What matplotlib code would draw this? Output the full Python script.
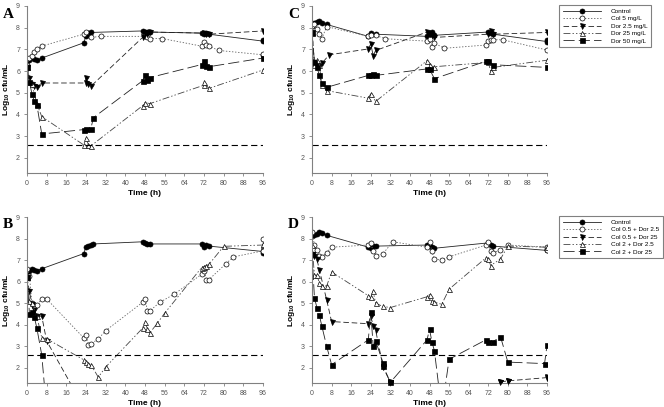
import numpy as np
import matplotlib.pyplot as plt

plt.rcParams['font.family'] = ['Liberation Sans', 'DejaVu Sans']
plt.rcParams['mathtext.fontset'] = 'custom'
plt.rcParams['mathtext.rm'] = 'Liberation Sans'
plt.rcParams['mathtext.bf'] = 'Liberation Sans:bold'
plt.rcParams['lines.scale_dashes'] = False

# ---- data (time h, log10 cfu/mL) ----
# Panel A: single agents
tA_ctrl = [0, 0, 1, 3, 4, 6, 23, 24, 25, 26, 47, 48, 49, 50, 71, 72, 73, 74, 96, 96]
vA_ctrl = [6.2, 6.3, 6.5, 6.55, 6.5, 6.6, 7.3, 7.6, 7.75, 7.78, 7.85, 7.8, 7.8, 7.8, 7.75, 7.7, 7.75, 7.7, 7.38, 7.42]
tA_col5 = [0, 1, 2, 3, 4, 6, 23, 24, 26, 30, 48, 49, 50, 55, 71, 72, 73, 74, 78, 96, 96]
vA_col5 = [6.3, 6.6, 6.7, 6.9, 7.0, 7.15, 7.7, 7.8, 7.55, 7.6, 7.6, 7.55, 7.5, 7.5, 7.15, 7.35, 7.2, 7.15, 6.95, 6.75, 6.8]
tA_dor2 = [0, 1, 2, 3, 4, 6, 24, 24, 25, 26, 47, 48, 49, 50, 72, 73, 74, 96]
vA_dor2 = [6.2, 5.7, 5.4, 5.3, 5.25, 5.45, 5.45, 5.7, 5.4, 5.3, 7.55, 7.75, 7.7, 7.8, 7.75, 7.7, 7.7, 7.85]
tA_dor25 = [0, 1, 2, 4, 6, 23, 24, 25, 26, 47, 48, 50, 72, 72, 74, 96]
vA_dor25 = [6.2, 5.5, 5.4, 4.5, 3.9, 2.6, 2.9, 2.6, 2.55, 4.4, 4.55, 4.5, 5.35, 5.5, 5.2, 6.05]
tA_dor50 = [0, 1, 2, 3, 4, 6, 23, 24, 26, 27, 47, 48, 49, 50, 71, 72, 73, 74, 96]
vA_dor50 = [6.2, 5.5, 4.95, 4.6, 4.45, 3.1, 3.3, 3.35, 3.35, 3.85, 5.55, 5.8, 5.6, 5.7, 6.3, 6.45, 6.25, 6.2, 6.6]

# Panel C: single agents, higher inoculum
tC_ctrl = [0, 1, 2, 3, 4, 6, 23, 24, 26, 47, 48, 49, 50, 72, 73, 74, 96, 96]
vC_ctrl = [8.1, 8.2, 8.25, 8.3, 8.2, 8.15, 7.6, 7.75, 7.7, 7.6, 7.7, 7.8, 7.65, 7.8, 7.75, 7.7, 7.36, 7.42]
tC_col5 = [0, 1, 2, 3, 4, 6, 23, 24, 26, 30, 47, 48, 49, 50, 54, 71, 72, 73, 74, 78, 96]
vC_col5 = [8.1, 8.15, 7.95, 7.7, 7.5, 8.05, 7.6, 7.66, 7.64, 7.49, 7.38, 7.5, 7.1, 7.29, 7.05, 7.2, 7.38, 7.44, 7.45, 7.44, 6.97]
tC_dor2 = [0, 1, 2, 3, 4, 7, 23, 24, 25, 26, 47, 48, 49, 50, 72, 73, 74, 96]
vC_dor2 = [7.8, 6.4, 6.3, 6.25, 6.35, 6.75, 7.02, 7.25, 6.71, 6.95, 7.8, 7.7, 7.65, 7.55, 7.7, 7.85, 7.7, 7.78]
tC_dor25 = [0, 1, 2, 3, 4, 6, 23, 24, 26, 47, 48, 50, 72, 73, 74, 96]
vC_dor25 = [7.8, 6.3, 6.5, 6.3, 5.35, 5.1, 4.75, 4.95, 4.6, 6.48, 6.29, 6.2, 6.4, 6.0, 6.17, 6.5]
tC_dor50 = [0, 1, 2, 3, 4, 6, 23, 24, 25, 26, 47, 48, 50, 71, 72, 74, 96]
vC_dor50 = [7.77, 6.4, 6.2, 5.8, 5.45, 5.25, 5.8, 5.8, 5.85, 5.8, 6.1, 6.09, 5.65, 6.45, 6.48, 6.29, 6.17]

# Panel B: combinations
tB_ctrl = [0, 0, 1, 2, 3, 4, 6, 23, 24, 25, 26, 27, 47, 48, 49, 50, 71, 72, 73, 74, 96, 96]
vB_ctrl = [6.2, 6.3, 6.5, 6.6, 6.55, 6.5, 6.6, 7.3, 7.6, 7.65, 7.7, 7.75, 7.85, 7.8, 7.75, 7.75, 7.75, 7.6, 7.7, 7.65, 7.4, 7.35]
tB_c05d2 = [0, 1, 2, 3, 4, 6, 8, 23, 24, 25, 26, 29, 32, 47, 48, 49, 50, 54, 60, 71, 72, 73, 74, 81, 84, 96, 96]
vB_c05d2 = [6.6, 6.25, 5.0, 4.85, 4.9, 5.2, 5.2, 3.4, 3.52, 3.08, 3.12, 3.34, 3.73, 5.04, 5.2, 4.65, 4.65, 5.04, 5.43, 6.34, 6.5, 6.1, 6.1, 6.84, 7.15, 7.43, 8.0]
tB_c05d25 = [0, 1, 2, 3, 4, 6, 8, 24]
vB_c05d25 = [6.2, 5.55, 4.95, 4.7, 4.4, 4.4, 3.25, 0.0]
tB_c2d2 = [0, 1, 2, 4, 6, 8, 23, 24, 25, 26, 29, 32, 47, 48, 49, 50, 53, 56, 71, 72, 73, 74, 80, 96, 96]
vB_c2d2 = [6.2, 5.1, 5.0, 4.4, 3.4, 3.35, 2.38, 2.27, 2.2, 2.15, 1.57, 2.04, 3.84, 4.15, 3.8, 3.63, 4.07, 4.54, 6.65, 6.7, 6.75, 6.8, 7.64, 7.7, 7.75]
tB_c2d25 = [0, 1, 2, 3, 4, 6, 8]
vB_c2d25 = [6.2, 4.5, 4.6, 4.35, 3.85, 2.6, 0.0]

# Panel D: combinations, higher inoculum
tD_ctrl = [0, 1, 2, 3, 4, 6, 23, 24, 25, 26, 47, 48, 49, 50, 72, 73, 74, 96, 96]
vD_ctrl = [8.1, 8.15, 8.2, 8.3, 8.25, 8.15, 7.6, 7.55, 7.65, 7.65, 7.7, 7.65, 7.6, 7.55, 7.8, 7.7, 7.65, 7.45, 7.5]
tD_c05d2 = [0, 1, 2, 3, 4, 6, 8, 23, 24, 25, 26, 29, 33, 47, 48, 49, 50, 53, 56, 71, 72, 73, 74, 77, 80, 96, 96]
vD_c05d2 = [8.3, 7.7, 7.45, 7.2, 7.15, 7.35, 7.6, 7.7, 7.8, 7.4, 7.2, 7.3, 7.85, 7.6, 7.85, 7.4, 7.05, 7.0, 7.15, 7.7, 7.85, 7.4, 7.35, 7.45, 7.7, 7.6, 7.45]
tD_c05d25 = [0, 1, 2, 3, 6, 8, 23, 24, 25, 26, 29, 32, np.nan, 77, 80, 96, 96]
vD_c05d25 = [7.3, 7.2, 7.05, 6.55, 5.15, 4.15, 4.05, 4.4, 3.95, 3.75, 2.05, 1.33, np.nan, 1.35, 1.4, 1.55, 1.6]
tD_c2d2 = [0, 1, 2, 3, 4, 6, 8, 23, 24, 25, 26, 29, 32, 47, 48, 49, 50, 53, 56, 71, 72, 73, 77, 80, 96]
vD_c2d2 = [7.7, 6.3, 6.3, 5.95, 5.8, 5.8, 6.45, 5.35, 5.3, 5.55, 5.0, 4.85, 4.8, 5.3, 5.4, 5.1, 5.05, 4.95, 5.65, 7.1, 7.05, 6.75, 7.05, 7.65, 7.6]
tD_c2d25 = [0, 1, 2, 3, 4, 6, 8, 23, 24, 25, 26, 29, 29, 32, 47, 48, 49, 50, 53, 56, 71, 72, 74, 77, 80, 95, 96]
vD_c2d25 = [7.3, 5.25, 4.8, 4.45, 3.95, 3.0, 2.15, 3.3, 4.6, 3.0, 3.25, 2.25, 2.1, 1.33, 3.3, 3.8, 3.2, 2.8, 0.0, 2.4, 3.3, 3.22, 3.22, 3.45, 2.27, 2.2, 3.05]

limit = 2.6   # detection limit
labels_single = ['Control', 'Col 5 mg/L', 'Dor 2.5 mg/L', 'Dor 25 mg/L', 'Dor 50 mg/L']
labels_combo = ['Control', 'Col 0.5 + Dor 2.5', 'Col 0.5 + Dor 25', 'Col 2 + Dor 2.5', 'Col 2 + Dor 25']

styles = [
    dict(ls='-', marker='o', mfc='black', color='#222222'),
    dict(ls=(0, (1, 1.2)), marker='o', mfc='white', color='#666666'),
    dict(ls=(0, (4, 2)), marker='v', mfc='black', color='#222222'),
    dict(ls=(0, (5, 1.5, 1, 1.5, 1, 1.5)), marker='^', mfc='white', color='#444444'),
    dict(ls=(0, (8, 3)), marker='s', mfc='black', color='#222222'),
]

panels = {
    'A': [(tA_ctrl, vA_ctrl), (tA_col5, vA_col5), (tA_dor2, vA_dor2), (tA_dor25, vA_dor25), (tA_dor50, vA_dor50)],
    'C': [(tC_ctrl, vC_ctrl), (tC_col5, vC_col5), (tC_dor2, vC_dor2), (tC_dor25, vC_dor25), (tC_dor50, vC_dor50)],
    'B': [(tB_ctrl, vB_ctrl), (tB_c05d2, vB_c05d2), (tB_c05d25, vB_c05d25), (tB_c2d2, vB_c2d2), (tB_c2d25, vB_c2d25)],
    'D': [(tD_ctrl, vD_ctrl), (tD_c05d2, vD_c05d2), (tD_c05d25, vD_c05d25), (tD_c2d2, vD_c2d2), (tD_c2d25, vD_c2d25)],
}

W, H = 664, 407
fig = plt.figure(figsize=(W/100, H/100), dpi=100)

# axes boxes in pixels: left, top, right, bottom
boxes = {'A': (27, 6, 263, 173), 'C': (312, 6, 547, 173),
         'B': (27, 217, 263, 383), 'D': (312, 217, 547, 383)}
gray = '#808080'

for key, series in panels.items():
    l, t, r, b = boxes[key]
    ax = fig.add_axes([l/W, 1 - b/H, (r-l)/W, (b-t)/H])
    handles = []
    for (tt, vv), st in zip(series, styles):
        ln, = ax.plot(tt, vv, linestyle=st['ls'], color=st['color'], lw=0.6,
                      marker=st['marker'], ms=3.6, mfc=st['mfc'], mec='black', mew=0.5)
        handles.append(ln)
        tt = np.array(tt, float); vv = np.array(vv, float)
        low = (vv >= 1.2) & (vv < 1.5)
        if low.any():
            ax.plot(tt[low], vv[low], ls='none', marker=st['marker'], ms=3.6,
                    mfc=st['mfc'], mec='black', mew=0.5, clip_on=False, zorder=5)
    ax.plot([0, 96], [limit, limit], color='black', lw=0.8, ls=(0, (4.5, 2.5)))
    ax.set_xlim(0, 96)
    ax.set_ylim(1.3, 9)
    ax.set_xticks(np.arange(0, 97, 8))
    ax.set_yticks(np.arange(2, 10, 1))
    for s in ['top', 'right']:
        ax.spines[s].set_visible(False)
    for s in ['left', 'bottom']:
        ax.spines[s].set_color(gray)
        ax.spines[s].set_linewidth(0.8)
    ax.tick_params(colors=gray, labelcolor='#555555', labelsize=5, length=2.5, width=0.6, pad=2.5)
    ax.set_xlabel('Time (h)', fontsize=6, fontweight='bold', labelpad=2.5)
    ax.set_ylabel(r'Log$_{\mathbf{10}}$ cfu/mL', fontsize=6, fontweight='bold', labelpad=3)
    fig.text((l - 24)/W, 1 - (t + 8)/H, key, family='Liberation Serif', fontweight='bold',
             fontsize=11, va='center', ha='left')
    if key in ('C', 'D'):
        labels = labels_single if key == 'C' else labels_combo
        leg = fig.legend(handles, labels, loc='upper left',
                         bbox_to_anchor=(559/W, 1 - (t - 1)/H), fontsize=4.6,
                         handlelength=6.0, handletextpad=1.6, borderpad=0.55,
                         borderaxespad=0, labelspacing=0.3, fancybox=False, framealpha=1)
        leg.get_frame().set_edgecolor(gray)
        leg.get_frame().set_linewidth(0.8)

fig.savefig('out.png', dpi=100)
